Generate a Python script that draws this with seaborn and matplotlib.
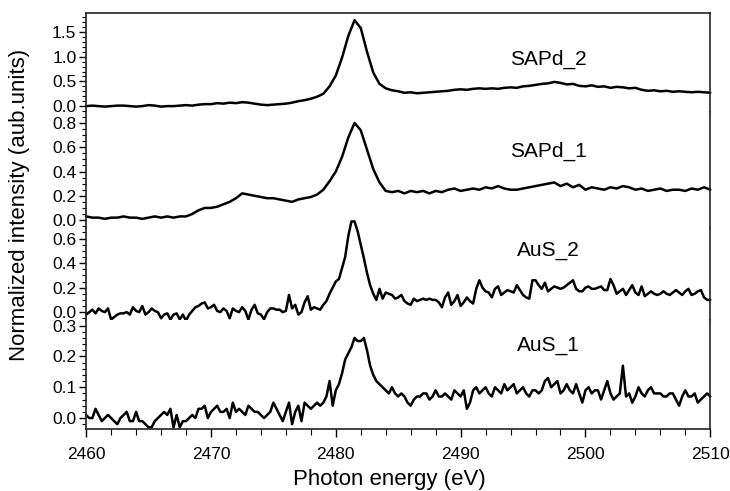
import numpy as np
import pandas as pd
import seaborn as sns
import matplotlib.pyplot as plt
from matplotlib.ticker import MultipleLocator

sns.set_style("ticks")
plt.rcParams['font.family'] = ['Liberation Sans', 'DejaVu Sans']
plt.rcParams.update({"text.color": "black", "axes.labelcolor": "black",
                     "xtick.color": "black", "ytick.color": "black"})

# energy grids (eV)
energy_coarse = np.arange(2460, 2510.01, 0.5)
energy_fine = np.arange(2460, 2510.01, 0.25)

# SAPd_2, 0.5 eV step
sapd_2 = [
    0.00, 0.01, 0.00, -0.01, 0.00, 0.01, 0.01, 0.00, -0.01, 0.00,
    0.02, 0.01, -0.01, 0.00, 0.00, 0.01, 0.02, 0.01, 0.03, 0.04,
    0.04, 0.06, 0.05, 0.07, 0.06, 0.08, 0.07, 0.05, 0.03, 0.02,
    0.03, 0.04, 0.05, 0.07, 0.10, 0.12, 0.15, 0.19, 0.25, 0.40,
    0.62, 0.98, 1.42, 1.74, 1.58, 1.10, 0.68, 0.45, 0.36, 0.32,
    0.30, 0.27, 0.28, 0.26, 0.27, 0.28, 0.29, 0.30, 0.31, 0.33,
    0.34, 0.33, 0.35, 0.36, 0.35, 0.36, 0.35, 0.37, 0.38, 0.37,
    0.40, 0.41, 0.43, 0.45, 0.46, 0.49, 0.47, 0.44, 0.45, 0.41,
    0.40, 0.42, 0.39, 0.40, 0.37, 0.39, 0.38, 0.36, 0.37, 0.33,
    0.31, 0.32, 0.30, 0.31, 0.29, 0.30, 0.29, 0.28, 0.29, 0.28,
    0.27,
]

# SAPd_1, 0.5 eV step
sapd_1 = [
    0.03, 0.02, 0.02, 0.01, 0.02, 0.02, 0.03, 0.02, 0.02, 0.01,
    0.02, 0.03, 0.02, 0.03, 0.02, 0.03, 0.03, 0.05, 0.08, 0.10,
    0.10, 0.11, 0.13, 0.15, 0.18, 0.22, 0.21, 0.20, 0.19, 0.18,
    0.18, 0.17, 0.16, 0.15, 0.17, 0.18, 0.19, 0.21, 0.25, 0.32,
    0.40, 0.52, 0.68, 0.80, 0.74, 0.58, 0.42, 0.31, 0.24, 0.23,
    0.24, 0.22, 0.24, 0.23, 0.24, 0.22, 0.24, 0.23, 0.25, 0.26,
    0.24, 0.25, 0.26, 0.25, 0.27, 0.26, 0.28, 0.26, 0.25, 0.25,
    0.26, 0.27, 0.28, 0.29, 0.30, 0.31, 0.28, 0.30, 0.27, 0.29,
    0.25, 0.27, 0.26, 0.25, 0.27, 0.26, 0.28, 0.27, 0.25, 0.26,
    0.24, 0.25, 0.26, 0.24, 0.25, 0.25, 0.24, 0.26, 0.25, 0.27,
    0.25,
]

# AuS_2, 0.25 eV step
aus_2 = [
    -0.02, 0.00, 0.02, -0.01, 0.03, 0.01, 0.00, 0.03, -0.06, -0.04,
    -0.02, -0.01, -0.01, 0.00, -0.02, 0.04, 0.01, 0.00, 0.05, -0.02,
    0.00, 0.03, 0.01, 0.00, -0.05, -0.02, -0.01, -0.06, -0.02, -0.01,
    -0.06, -0.02, -0.07, -0.02, 0.01, 0.04, 0.05, 0.07, 0.08, 0.03,
    0.04, 0.06, 0.01, 0.00, 0.03, 0.01, -0.05, 0.03, 0.01, 0.00,
    0.04, 0.01, -0.06, 0.02, 0.06, -0.01, -0.02, -0.06, 0.00, 0.03,
    0.03, 0.02, 0.02, 0.00, 0.01, 0.14, 0.03, 0.06, -0.02, 0.00,
    0.08, 0.13, 0.02, 0.04, 0.03, 0.02, 0.06, 0.09, 0.15, 0.20,
    0.25, 0.27, 0.36, 0.45, 0.62, 0.74, 0.74, 0.66, 0.55, 0.44,
    0.32, 0.22, 0.15, 0.10, 0.19, 0.11, 0.16, 0.15, 0.14, 0.11,
    0.12, 0.14, 0.09, 0.07, 0.06, 0.11, 0.09, 0.10, 0.11, 0.10,
    0.11, 0.10, 0.10, 0.08, 0.04, 0.12, 0.16, 0.06, 0.09, 0.14,
    0.05, 0.08, 0.12, 0.09, 0.07, 0.19, 0.26, 0.20, 0.17, 0.16,
    0.12, 0.19, 0.21, 0.14, 0.16, 0.18, 0.17, 0.16, 0.22, 0.18,
    0.14, 0.12, 0.11, 0.26, 0.26, 0.22, 0.19, 0.24, 0.17, 0.19,
    0.21, 0.20, 0.19, 0.20, 0.22, 0.24, 0.26, 0.19, 0.17, 0.17,
    0.20, 0.21, 0.19, 0.19, 0.20, 0.21, 0.18, 0.18, 0.27, 0.22,
    0.15, 0.17, 0.19, 0.14, 0.18, 0.22, 0.16, 0.14, 0.21, 0.13,
    0.15, 0.17, 0.15, 0.14, 0.15, 0.17, 0.15, 0.14, 0.16, 0.18,
    0.16, 0.14, 0.17, 0.19, 0.14, 0.15, 0.17, 0.18, 0.12, 0.10,
    0.10,
]

# AuS_1, 0.25 eV step
aus_1 = [
    0.01, 0.00, 0.00, 0.03, 0.01, -0.01, 0.00, 0.01, 0.00, -0.01,
    -0.02, 0.00, 0.01, 0.02, -0.01, -0.01, 0.02, -0.01, -0.01, -0.02,
    -0.03, -0.03, -0.01, 0.00, 0.01, 0.02, 0.01, 0.03, -0.03, 0.01,
    -0.03, -0.01, -0.01, 0.00, 0.01, 0.00, 0.03, 0.03, 0.04, 0.00,
    0.02, 0.03, 0.04, 0.02, 0.02, 0.03, 0.00, 0.05, 0.02, 0.03,
    0.02, 0.01, 0.04, 0.03, 0.02, 0.02, 0.01, 0.00, 0.01, 0.02,
    0.05, 0.03, 0.01, -0.01, 0.02, 0.05, -0.02, 0.02, 0.04, -0.01,
    0.05, 0.04, 0.03, 0.04, 0.05, 0.04, 0.05, 0.07, 0.12, 0.04,
    0.09, 0.11, 0.145, 0.19, 0.21, 0.23, 0.26, 0.25, 0.25, 0.26,
    0.22, 0.17, 0.14, 0.12, 0.11, 0.10, 0.09, 0.08, 0.10, 0.08,
    0.07, 0.08, 0.07, 0.05, 0.04, 0.06, 0.07, 0.07, 0.08, 0.08,
    0.06, 0.07, 0.09, 0.07, 0.07, 0.08, 0.07, 0.06, 0.09, 0.08,
    0.07, 0.09, 0.03, 0.05, 0.09, 0.10, 0.08, 0.09, 0.10, 0.08,
    0.07, 0.10, 0.09, 0.08, 0.11, 0.09, 0.10, 0.11, 0.08, 0.09,
    0.10, 0.08, 0.07, 0.09, 0.09, 0.08, 0.09, 0.12, 0.13, 0.10,
    0.11, 0.12, 0.08, 0.09, 0.11, 0.09, 0.08, 0.11, 0.08, 0.05,
    0.09, 0.10, 0.08, 0.09, 0.09, 0.06, 0.09, 0.12, 0.08, 0.06,
    0.07, 0.08, 0.17, 0.07, 0.08, 0.05, 0.07, 0.10, 0.08, 0.07,
    0.09, 0.10, 0.08, 0.08, 0.08, 0.07, 0.07, 0.08, 0.08, 0.06,
    0.04, 0.07, 0.09, 0.07, 0.07, 0.08, 0.05, 0.06, 0.07, 0.08,
    0.07,
]

names = ["SAPd_2", "SAPd_1", "AuS_2", "AuS_1"]
series = [sapd_2, sapd_1, aus_2, aus_1]
energies = [energy_coarse, energy_coarse, energy_fine, energy_fine]
ylims = [(-0.12, 1.885), (-0.066, 0.89), (-0.065, 0.686), (-0.036, 0.318)]
yticks = [[0.0, 0.5, 1.0, 1.5], [0.0, 0.2, 0.4, 0.6, 0.8],
          [0.0, 0.2, 0.4, 0.6], [0.0, 0.1, 0.2, 0.3]]
yminor = [0.1, 0.05, 0.05, 0.02]
label_y = [0.95, 0.57, 0.50, 0.234]

fig = plt.figure(figsize=(7.3, 4.91), dpi=100)
gs = fig.add_gridspec(4, 1, height_ratios=[99, 116, 92, 109], hspace=0,
                      left=0.118, right=0.973, top=0.9735, bottom=0.126)
axes = [fig.add_subplot(gs[i]) for i in range(4)]

for i, ax in enumerate(axes):
    df = pd.DataFrame({"energy": energies[i], "intensity": series[i]})
    sns.lineplot(data=df, x="energy", y="intensity", ax=ax, color="black",
                 lw=1.8, clip_on=False)
    ax.set_xlim(2460, 2510)
    ax.set_ylim(*ylims[i])
    ax.set_yticks(yticks[i])
    ax.set_yticklabels([f"{t:.1f}" for t in yticks[i]])
    ax.yaxis.set_minor_locator(MultipleLocator(yminor[i]))
    ax.tick_params(axis="y", which="major", direction="out", length=5,
                   width=1.0, labelsize=12.5, pad=2)
    ax.tick_params(axis="y", which="minor", direction="out", length=3, width=0.8)
    ax.set_xlabel("")
    ax.set_ylabel("")
    for s in ax.spines.values():
        s.set_linewidth(1.2)
        s.set_color("#222222")
    ax.spines["top"].set_visible(i == 0)
    ax.spines["bottom"].set_visible(i == 3)
    ax.text(2497.0, label_y[i], names[i], ha="center", va="center", fontsize=15)
    if i < 3:
        ax.tick_params(axis="x", which="both", bottom=False, labelbottom=False)

ax = axes[-1]
ax.set_xticks([2460, 2470, 2480, 2490, 2500, 2510])
ax.xaxis.set_minor_locator(MultipleLocator(2))
ax.tick_params(axis="x", which="major", direction="out", length=6, width=1.0,
               labelsize=12.5, pad=7)
ax.tick_params(axis="x", which="minor", direction="out", length=4, width=0.8)

fig.text(0.533, 0.024, "Photon energy (eV)", ha="center", va="center", fontsize=16)
fig.text(0.027, 0.5825, "Normalized intensity (aub.units)", ha="center",
         va="center", rotation=90, fontsize=16)

fig.savefig("out.png", dpi=100)
